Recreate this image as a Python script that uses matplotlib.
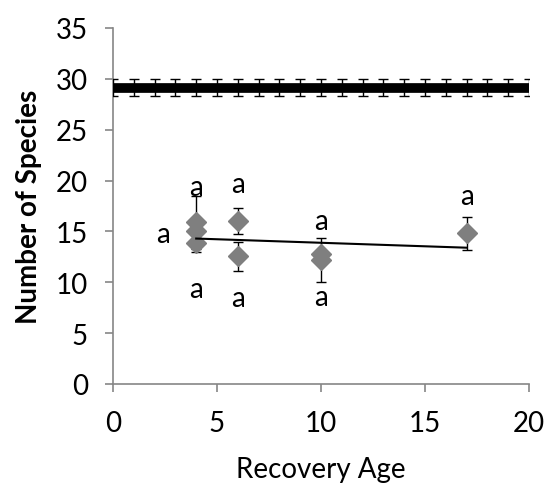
import matplotlib
matplotlib.use("Agg")
import matplotlib.pyplot as plt
import numpy as np

# Reference band (mature forest) values
ref_x = list(range(0, 21))
ref_mean = 29.15
ref_err = 0.85

# Recovery-age data points
age = [4, 4, 4, 6, 6, 10, 10, 17]
species = [15.9, 15.0, 13.9, 16.0, 12.55, 12.8, 12.2, 14.8]
species_err = [2.6, 0.3, 0.95, 1.3, 1.45, 0.3, 2.2, 1.6]

# Trend line end points
trend_x = [4, 17]
trend_y = [14.3, 13.4]

# Significance letters (x, y, text)
letters_x = [4, 2.4, 4, 6, 6, 10, 10, 17]
letters_y = [19.4, 14.75, 9.3, 19.7, 8.5, 16.0, 8.6, 18.5]
letters_t = ["a", "a", "a", "a", "a", "a", "a", "a"]

plt.rcParams['font.family'] = ['Lato', 'DejaVu Sans']
FS = 20

fig = plt.figure(figsize=(5.47, 4.89), dpi=100)
ax = fig.add_axes([113/547, 1-385/489, (529-113)/547, (385-29)/489])

# reference band
ax.plot([ref_x[0], ref_x[-1]], [ref_mean, ref_mean], color='black', lw=7, solid_capstyle='butt', zorder=2)
ax.errorbar(ref_x, [ref_mean]*len(ref_x), yerr=ref_err, fmt='none', ecolor='black',
            elinewidth=1, capsize=3.6, capthick=1, zorder=3)

# data
ax.errorbar(age, species, yerr=species_err, fmt='none', ecolor='black',
            elinewidth=1, capsize=3.6, capthick=1, zorder=3)
ax.plot(age, species, linestyle='none', marker='D', markersize=10.5,
        markerfacecolor='#7f7f7f', markeredgecolor='#7f7f7f', zorder=4)
ax.plot(trend_x, trend_y, color='black', lw=1.5, zorder=5)

for x, y, t in zip(letters_x, letters_y, letters_t):
    ax.text(x, y, t, ha='center', va='center', fontsize=FS, color='black')

ax.set_xlim(0, 20)
ax.set_ylim(0, 35)
ax.set_xticks([0, 5, 10, 15, 20])
ax.set_yticks([0, 5, 10, 15, 20, 25, 30, 35])
for s in ['top', 'right']:
    ax.spines[s].set_visible(False)
for s in ['left', 'bottom']:
    ax.spines[s].set_color('#868686')
    ax.spines[s].set_linewidth(1.2)
ax.tick_params(axis='both', direction='out', length=6, width=1.2, color='#868686',
               labelsize=FS, labelcolor='black')
ax.tick_params(axis='y', pad=12)
ax.tick_params(axis='x', pad=13)
ax.set_xlabel('Recovery Age', fontsize=FS, labelpad=14)
ax.set_ylabel('Number of Species', fontsize=FS, fontweight='bold', labelpad=10)

fig.savefig('out.png', dpi=100)
